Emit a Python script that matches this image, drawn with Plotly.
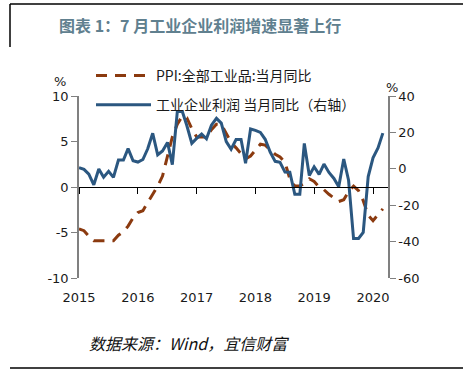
import plotly.graph_objects as go
import pandas as pd

months = pd.date_range("2015-05-01", "2020-07-01", freq="MS")

ppi = [-4.6, -4.8, -5.4, -5.9, -5.9, -5.9, -5.9, -5.9,
       -5.3, -4.9, -4.3, -3.4, -2.8, -2.6, -1.7, -0.8, 0.1, 1.2, 3.3, 5.5,
       6.9, 7.8, 7.6, 6.4, 5.5, 5.5, 5.5, 6.3, 6.9, 6.9, 5.8, 4.9,
       4.3, 3.7, 3.1, 3.4, 4.1, 4.7, 4.6, 4.1, 3.6, 3.3, 2.7, 0.9,
       0.1, 0.1, 0.4, 0.9, 0.6, 0.0, -0.3, -0.8, -1.2, -1.6, -1.4, -0.5,
       0.1, -0.4, -1.5, -3.1, -3.7, -3.0, -2.4]

profit = [0.6, -0.3, -2.9, -8.8, -0.1, -4.6, -1.4, -4.7,
          4.8, 4.8, 11.1, 4.4, 3.7, 5.1, 11.0, 19.5, 7.7, 9.8, 14.5, 2.3,
          31.5, 31.5, 23.8, 14.0, 16.7, 19.1, 16.5, 24.0, 27.7, 25.1, 14.9, 10.8,
          16.1, 16.1, 3.1, 21.9, 21.1, 20.0, 16.2, 9.2, 4.1, 3.6, -1.8, -1.9,
          -14.0, -14.0, 13.9, -3.7, 1.1, -3.1, 2.6, -2.0, -5.3, -9.9, 5.4, -6.3,
          -38.3, -38.3, -34.9, -4.3, 6.0, 11.5, 19.6]

year_ticks = ["2015-05-01", "2016-05-01", "2017-05-01", "2018-05-01", "2019-05-01", "2020-05-01"]
year_labels = ["2015", "2016", "2017", "2018", "2019", "2020"]
left_ticks = [-10, -5, 0, 5, 10]
right_ticks = [-60, -40, -20, 0, 20, 40]

W, H = 463, 377
L, R, T, B = 79, 388, 96, 278


def px(x):
    return (x - L) / (R - L)


def py(y):
    return (B - y) / (B - T)


BROWN = "#8b3a0f"
BLUE = "#2b5780"
NUM_FONT = dict(family="DejaVu Sans", size=13, color="#1a1a1a")
CJK = "Noto Sans CJK SC"

fig = go.Figure()
fig.add_trace(go.Scatter(
    x=months, y=ppi, name="PPI:全部工业品:当月同比", mode="lines",
    line=dict(color=BROWN, width=3, dash="11px,8px"),
    xaxis="x", yaxis="y", legendgroup="a"))
fig.add_trace(go.Scatter(
    x=months, y=profit, name="工业企业利润 当月同比（右轴）", mode="lines",
    line=dict(color=BLUE, width=3),
    xaxis="x", yaxis="y2", legendgroup="b"))

xrange = ["2015-05-01", "2020-08-02"]
fig.update_layout(
    width=W, height=H,
    margin=dict(l=L, r=W - R, t=T, b=H - B, autoexpand=False),
    paper_bgcolor="white", plot_bgcolor="white",
    font=dict(family=CJK, size=14, color="#1a1a1a"),
    showlegend=True,
    legend=dict(x=px(91), y=py(60), xanchor="left", yanchor="top",
                bgcolor="rgba(0,0,0,0)", tracegroupgap=8,
                font=dict(family=CJK, size=14, color="#1a1a1a"),
                itemwidth=55),
    xaxis=dict(range=xrange, type="date", tickmode="array",
               tickvals=year_ticks, ticktext=year_labels,
               anchor="free", position=0.5,
               showline=True, linecolor="black", linewidth=1,
               ticks="outside", ticklen=6, tickcolor="black",
               ticklabelstandoff=92,
               showgrid=False, zeroline=False, tickfont=NUM_FONT,
               automargin=False),
    yaxis=dict(range=[-10, 10], tickmode="array", tickvals=left_ticks,
               ticktext=[str(v) for v in left_ticks],
               showline=True, linecolor="#808080", linewidth=1.5,
               ticks="outside", ticklen=6, tickcolor="#808080",
               showgrid=False, zeroline=False, tickfont=NUM_FONT,
               anchor="x", automargin=False),
    yaxis2=dict(range=[-60, 40], tickmode="array", tickvals=right_ticks,
                ticktext=[str(v) for v in right_ticks],
                overlaying="y", side="right", anchor="x",
                showline=True, linecolor="#808080", linewidth=1.5,
                ticks="outside", ticklen=6, tickcolor="#808080",
                showgrid=False, zeroline=False, tickfont=NUM_FONT,
                automargin=False),
)

annotations = [
    dict(text="<b>图表 1：7 月工业企业利润增速显著上行</b>", x=px(57), y=py(25),
         xanchor="left", yanchor="middle",
         font=dict(family=CJK, size=16, color="#60808f")),
    dict(text="<i>数据来源：Wind，宜信财富</i>", x=px(87), y=py(343),
         xanchor="left", yanchor="middle",
         font=dict(family=CJK, size=16, color="#111111")),
    dict(text="%", x=px(60), y=py(81), xanchor="center", yanchor="middle",
         font=NUM_FONT),
    dict(text="%", x=px(392), y=py(88), xanchor="center", yanchor="middle",
         font=NUM_FONT),
]
for a in annotations:
    a.update(xref="paper", yref="paper", showarrow=False)
fig.update_layout(annotations=annotations)

shapes = [
    dict(type="line", x0=px(10), x1=px(463), y0=py(4), y1=py(4)),
    dict(type="line", x0=px(10), x1=px(10), y0=py(4), y1=py(47)),
    dict(type="line", x0=px(10), x1=px(463), y0=py(368), y1=py(368)),
]
for s in shapes:
    s.update(xref="paper", yref="paper", line=dict(color="black", width=1.5))
fig.update_layout(shapes=shapes)

fig.write_html("out.html",
               config={"displayModeBar": False},
               post_script="document.body.style.margin='0px';"
                           "document.body.style.overflow='hidden';")
